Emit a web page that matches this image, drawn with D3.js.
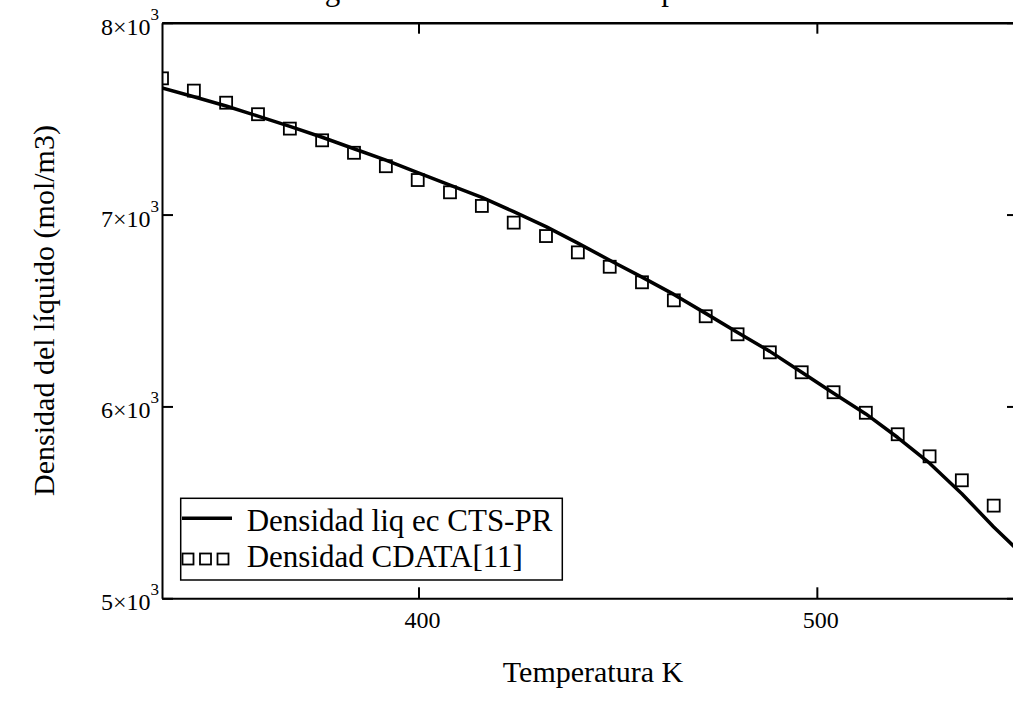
<!DOCTYPE html>
<html><head><meta charset="utf-8">
<script src="https://cdn.jsdelivr.net/npm/d3@7"></script>
<style>
body{margin:0;background:#fff}
svg{display:block}
text{font-family:"Liberation Serif","Times New Roman",serif;fill:#000}
</style>
</head><body><div id="chart"></div>
<script>
// ---- data ----
const temps = [335.6, 343.6, 351.7, 359.7, 367.7, 375.8, 383.8, 391.8, 399.8, 407.9,
               415.9, 423.9, 432.0, 440.0, 448.0, 456.1, 464.1, 472.1, 480.1, 488.2,
               496.2, 504.2, 512.3, 520.3, 528.3, 536.4, 544.4];
const cdataDensity = [7710, 7646, 7583, 7523, 7448, 7387, 7322, 7252, 7180, 7116,
                      7045, 6958, 6888, 6803, 6728, 6647, 6553, 6470, 6376, 6282,
                      6178, 6074, 5967, 5855, 5740, 5615, 5483];
const ctsTemps = [335.6, 343.6, 351.7, 359.7, 367.7, 375.8, 383.8, 391.8, 399.8, 407.9,
                  415.9, 423.9, 432.0, 440.0, 448.0, 456.1, 464.1, 472.1, 480.1, 488.2,
                  496.2, 504.2, 512.3, 520.3, 528.3, 536.4, 544.4, 550.5];
const ctsDensity = [7660, 7614, 7566, 7513, 7460, 7403, 7343, 7284, 7219, 7154,
                    7090, 7015, 6937, 6851, 6762, 6674, 6584, 6485, 6385, 6287,
                    6178, 6069, 5961, 5838, 5704, 5545, 5372, 5250];
const xTicks = [400, 500];
const yTicks = [5000, 6000, 7000, 8000];
const yTickMantissa = ["5", "6", "7", "8"];
const yTickExponent = "3";
const seriesNames = ["Densidad liq ec CTS-PR", "Densidad CDATA[11]"];
const titleText = "Diagrama de Densidad vs Temperatura";
const xLabel = "Temperatura K";
const yLabel = "Densidad del líquido (mol/m3)";

// ---- layout ----
const W = 1013, H = 702;
const L = 162, R = 1018, T = 22.7, B = 598.3;

const svg = d3.select("#chart").append("svg").attr("width", W).attr("height", H);

const x = d3.scaleLinear().domain([335.6, 550.5]).range([L, R]);
const y = d3.scaleLinear().domain([5000, 8000]).range([B, T]);

svg.append("defs").append("clipPath").attr("id", "clip")
  .append("rect").attr("x", L).attr("y", T).attr("width", R - L).attr("height", B - T);

// title (mostly above the page, only descenders show)
svg.append("text").attr("x", 280).attr("y", 0).attr("font-size", 31).text(titleText);

// axes
const tick = 11;
const axB = svg.append("g").attr("transform", `translate(0,${B})`)
  .call(d3.axisBottom(x).tickValues(xTicks).tickSize(-tick).tickSizeOuter(0).tickFormat(""));
const axT = svg.append("g").attr("transform", `translate(0,${T})`)
  .call(d3.axisTop(x).tickValues(xTicks).tickSize(-tick).tickSizeOuter(0).tickFormat(""));
const axL = svg.append("g").attr("transform", `translate(${L},0)`)
  .call(d3.axisLeft(y).tickValues(yTicks).tickSize(-tick).tickSizeOuter(0).tickFormat(""));
const axR = svg.append("g").attr("transform", `translate(${R},0)`)
  .call(d3.axisRight(y).tickValues(yTicks).tickSize(-tick).tickSizeOuter(0).tickFormat(""));
[axB, axT, axL, axR].forEach(g => {
  g.select(".domain").attr("stroke", "#000").attr("stroke-width", 2);
  g.selectAll(".tick line").attr("stroke", "#000").attr("stroke-width", 2);
});
axT.select(".domain").attr("stroke-width", 2.5);

// x tick labels
svg.append("g").selectAll("text").data(xTicks).join("text")
  .attr("x", d => x(d) + 4).attr("y", B + 30)
  .attr("text-anchor", "middle").attr("font-size", 24)
  .text(d => d);

// y tick labels  m×10^3
const yl = svg.append("g").selectAll("text").data(yTicks).join("text")
  .attr("x", L - 3).attr("y", d => y(d) + 12)
  .attr("text-anchor", "end").attr("font-size", 24);
yl.append("tspan").text((d, i) => yTickMantissa[i] + "×10");
yl.append("tspan").attr("font-size", 17).attr("dy", -15).text(yTickExponent);

// axis titles
svg.append("text").attr("x", (L + R) / 2 + 3).attr("y", 682)
  .attr("text-anchor", "middle").attr("font-size", 30).text(xLabel);
svg.append("text").attr("transform", `translate(54,${(T + B) / 2}) rotate(-90)`)
  .attr("text-anchor", "middle").attr("font-size", 30).text(yLabel);

// series
const plot = svg.append("g").attr("clip-path", "url(#clip)");
const lineGen = d3.line().x((d, i) => x(ctsTemps[i])).y(d => y(d));
plot.append("path").datum(ctsDensity).attr("d", lineGen)
  .attr("fill", "none").attr("stroke", "#000").attr("stroke-width", 3.5)
  .attr("stroke-linejoin", "round");

const sq = 12;
plot.selectAll("rect.pt").data(cdataDensity).join("rect").attr("class", "pt")
  .attr("x", (d, i) => x(temps[i]) - sq / 2).attr("y", d => y(d) - sq / 2)
  .attr("width", sq).attr("height", sq)
  .attr("fill", "none").attr("stroke", "#000").attr("stroke-width", 1.8);

// legend
const lg = svg.append("g");
lg.append("rect").attr("x", 180.7).attr("y", 498.3).attr("width", 381.6).attr("height", 81.7)
  .attr("fill", "#fff").attr("stroke", "#000").attr("stroke-width", 1.5);
lg.append("line").attr("x1", 182).attr("x2", 232).attr("y1", 518.3).attr("y2", 518.3)
  .attr("stroke", "#000").attr("stroke-width", 3.5);
[188, 205.5, 223].forEach(cx => {
  lg.append("rect").attr("x", cx - 5.5).attr("y", 559 - 5.5).attr("width", 11).attr("height", 11)
    .attr("fill", "none").attr("stroke", "#000").attr("stroke-width", 1.8);
});
lg.append("text").attr("x", 246.7).attr("y", 531).attr("font-size", 31).text(seriesNames[0]);
lg.append("text").attr("x", 246.7).attr("y", 567).attr("font-size", 31).text(seriesNames[1]);
</script>
</body></html>
